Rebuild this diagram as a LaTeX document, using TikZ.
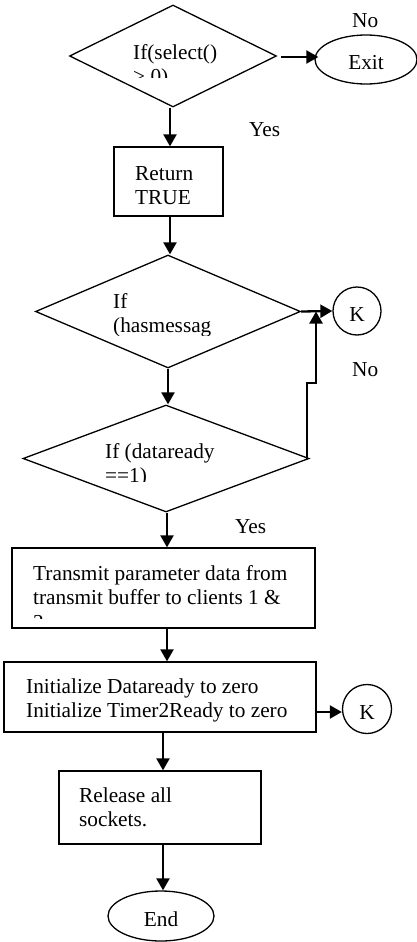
\documentclass[tikz,border=0pt]{standalone}
\usepackage{fontspec}
\setmainfont{Liberation Serif}
\usetikzlibrary{shapes.geometric,arrows.meta}
\begin{document}
\begin{tikzpicture}[x=1pt,y=-1pt,
  every node/.style={font=\fontsize{21.3}{24.5}\selectfont},
  shp/.style={draw, line width=1.3pt, inner sep=0pt},
  term/.style={shp, text height=21pt, text depth=0pt},
  txt/.style={anchor=base west, inner sep=0pt, align=left},
  arr/.style={line width=2.3pt, -{Triangle[length=12pt,width=13pt]}}]
\useasboundingbox (0,0) rectangle (417,942);
% shapes
\node[shp, diamond, minimum width=207pt, minimum height=102pt] (d1) at (173,56) {};
\node[term, ellipse, minimum width=102pt, minimum height=49pt] (exit) at (366,59.5) {Exit};
\node[shp, minimum width=109pt, minimum height=69pt] (ret) at (168.5,181.5) {};
\node[shp, diamond, minimum width=265pt, minimum height=113pt] (d2) at (168,311.5) {};
\node[term, circle, minimum size=48pt] (k1) at (357,311) {K};
\node[shp, diamond, minimum width=286pt, minimum height=107pt] (d3) at (166,458.5) {};
\node[shp, minimum width=303pt, minimum height=80pt] (trans) at (163.5,588) {};
\node[shp, minimum width=312pt, minimum height=70pt] (init) at (160,697) {};
\node[term, circle, minimum size=49pt] (k2) at (367,709) {K};
\node[shp, minimum width=202pt, minimum height=73pt] (rel) at (160,807.5) {};
\node[term, ellipse, minimum width=106pt, minimum height=50pt] (end) at (161,916) {End};
% texts (anchor: baseline of the last line)
\begin{scope}
\clip (100,0) rectangle (260,77);
\node[txt] (d1t) at (133,83.5) {If(select()\\> 0)};
\end{scope}
\node[txt] (rett) at (135,204.5) {Return\\TRUE};
\begin{scope}
\clip (90,280) rectangle (260,335);
\node[txt] (d2t) at (113,332.5) {If\\(hasmessag};
\end{scope}
\begin{scope}
\clip (90,420) rectangle (260,481);
\node[txt] (d3t) at (105,482.5) {If (dataready\\==1)};
\end{scope}
\begin{scope}
\clip (20,555) rectangle (310,618);
\node[txt] (transt) at (33,629) {Transmit parameter data from\\transmit buffer to clients 1 \&\\2};
\end{scope}
\node[txt] (initt) at (26,717.5) {Initialize Dataready to zero\\Initialize Timer2Ready to zero};
\node[txt] (relt) at (79,826.5) {Release all\\sockets.};
\node[txt] (no1) at (352,28) {No};
\node[txt] (yes1) at (249,136) {Yes};
\node[txt] (no2) at (352,376) {No};
\node[txt] (yes2) at (235,533) {Yes};
% connectors
\draw[arr] ([xshift=4pt,yshift=-1pt]d1.east) -- ([xshift=4pt,yshift=-1pt]d1.east -| exit.west);
\draw[arr] ([xshift=-3pt]d1.south) -- ([xshift=-3pt]d1.south |- ret.north);
\draw[arr] ([xshift=1.5pt]ret.south) -- ([xshift=1.5pt]ret.south |- d2.north);
\draw[arr] (d2.east) -- (k1.west);
\draw[arr] (d2.south) -- (d2.south |- d3.north);
\coordinate (j2) at (316,383);
\draw[arr] ([xshift=-3pt]d3.east) |- (j2) -- (j2 |- d2.east);
\draw[arr] ([xshift=1pt]d3.south) -- ([xshift=1pt]d3.south |- trans.north);
\draw[arr] ([xshift=3.5pt]trans.south) -- ([xshift=3.5pt]trans.south |- init.north);
\draw[arr] ([yshift=-15pt]init.east) -- ([yshift=-15pt]init.east -| k2.west);
\draw[arr] ([xshift=3pt]init.south) -- ([xshift=3pt]init.south |- rel.north);
\draw[arr] ([xshift=3pt]rel.south) -- ([xshift=3pt]rel.south |- end.north);
\end{tikzpicture}
\end{document}
